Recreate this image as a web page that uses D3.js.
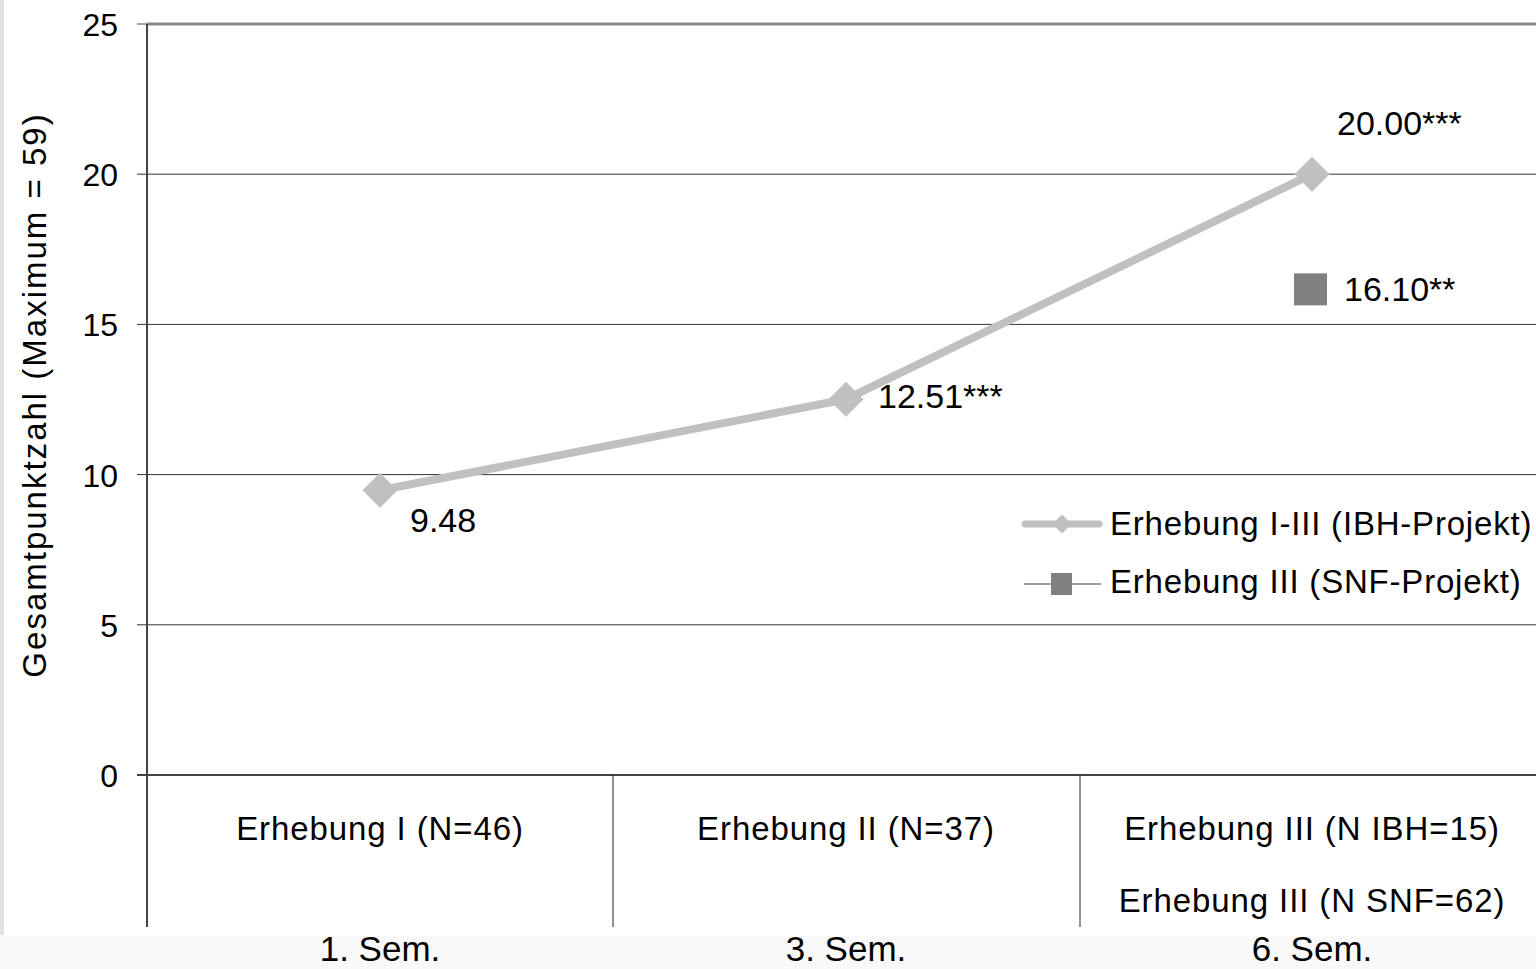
<!DOCTYPE html>
<html><head><meta charset="utf-8">
<script src="https://cdn.jsdelivr.net/npm/d3@7"></script>
<style>
html,body{margin:0;padding:0;background:#fff;overflow:hidden}
text{font-family:"Liberation Sans",Arial,sans-serif;fill:#000}
</style></head>
<body><svg id="c" width="1536" height="969"></svg>
<script>
const categories = ["Erhebung I (N=46)", "Erhebung II (N=37)", "Erhebung III (N IBH=15)"];
const categoryExtra = ["", "", "Erhebung III (N SNF=62)"];
const semesters = ["1. Sem.", "3. Sem.", "6. Sem."];
const ibhValues = [9.48, 12.51, 20.00];
const ibhLabels = ["9.48", "12.51***", "20.00***"];
const snfCategory = ["Erhebung III (N IBH=15)"];
const snfValues = [16.10];
const snfLabels = ["16.10**"];
const yTicks = [0, 5, 10, 15, 20, 25];
const seriesNames = ["Erhebung I-III (IBH-Projekt)", "Erhebung III (SNF-Projekt)"];
const yTitle = "Gesamtpunktzahl (Maximum = 59)";

const svg = d3.select("#c");
const pLeft = 147, pTop = 24, pBottom = 775;
// background bits
svg.append("rect").attr("x",0).attr("y",0).attr("width",4).attr("height",935).attr("fill","#e2e2e2");
svg.append("rect").attr("x",0).attr("y",936).attr("width",1536).attr("height",33).attr("fill","#f9f9f9");

const x = d3.scaleBand().domain(categories).range([pLeft, 1546]).padding(0);
const y = d3.scaleLinear().domain([0,25]).range([pBottom, pTop]);
const xc = d3.scalePoint().domain(categories).range([380,1312]);

// gridlines
svg.append("g").selectAll("line").data(yTicks.filter(t=>t>0&&t<25)).join("line")
  .attr("x1",pLeft-10).attr("x2",1536).attr("y1",d=>y(d)).attr("y2",d=>y(d))
  .attr("stroke","#333").attr("stroke-width",1);
svg.append("line").attr("x1",pLeft).attr("x2",1536).attr("y1",y(25)).attr("y2",y(25))
  .attr("stroke","#888").attr("stroke-width",3);
svg.append("line").attr("x1",pLeft-10).attr("x2",pLeft).attr("y1",y(25)).attr("y2",y(25))
  .attr("stroke","#444").attr("stroke-width",1);
// y axis
svg.append("line").attr("x1",pLeft).attr("x2",pLeft).attr("y1",pTop).attr("y2",927)
  .attr("stroke","#444").attr("stroke-width",2);
// x axis
svg.append("line").attr("x1",pLeft-10).attr("x2",1536).attr("y1",y(0)).attr("y2",y(0))
  .attr("stroke","#444").attr("stroke-width",2);
// category separators
svg.append("g").selectAll("line").data(categories.slice(1)).join("line")
  .attr("x1",d=>Math.round(x(d))).attr("x2",d=>Math.round(x(d))).attr("y1",y(0)).attr("y2",927)
  .attr("stroke","#222").attr("stroke-width",1);

// y tick labels
svg.append("g").selectAll("text").data(yTicks).join("text")
  .attr("x",118).attr("y",d=>y(d)+12).attr("text-anchor","end")
  .style("font-size","32px").text(d=>d);
// y title
svg.append("text").attr("transform",`translate(46,395) rotate(-90)`)
  .attr("text-anchor","middle").style("font-size","33px").style("letter-spacing","2px").text(yTitle);

// category labels
svg.append("g").selectAll("text").data(categories).join("text")
  .attr("x",d=>xc(d)).attr("y",840).attr("text-anchor","middle")
  .style("font-size","33px").style("letter-spacing","0.9px").text(d=>d);
svg.append("g").selectAll("text").data(categoryExtra).join("text")
  .attr("x",(d,i)=>xc(categories[i])).attr("y",912).attr("text-anchor","middle")
  .style("font-size","33px").style("letter-spacing","0.9px").text(d=>d);
svg.append("g").selectAll("text").data(semesters).join("text")
  .attr("x",(d,i)=>xc(categories[i])).attr("y",961).attr("text-anchor","middle")
  .style("font-size","35px").text(d=>d);

// IBH line
const line = d3.line().x((d,i)=>xc(categories[i])).y(d=>y(d));
svg.append("path").datum(ibhValues).attr("d",line).attr("fill","none")
  .attr("stroke","#c0c0c0").attr("stroke-width",8).attr("stroke-linejoin","round");
const diamond = (cx,cy,r)=>`M${cx},${cy-r}L${cx+r},${cy}L${cx},${cy+r}L${cx-r},${cy}Z`;
svg.append("g").selectAll("path").data(ibhValues).join("path")
  .attr("d",(d,i)=>diamond(xc(categories[i]),y(d),17.5)).attr("fill","#c0c0c0");
// SNF point
svg.append("g").selectAll("rect").data(snfValues).join("rect")
  .attr("x",(d,i)=>xc(snfCategory[i])-18).attr("y",d=>y(d)-18)
  .attr("width",33).attr("height",32).attr("fill","#808080");

// data labels
const ibhOff = [[30,42],[32,9],[25,-39]];
svg.append("g").selectAll("text").data(ibhValues).join("text")
  .attr("x",(d,i)=>xc(categories[i])+ibhOff[i][0]).attr("y",(d,i)=>y(d)+ibhOff[i][1])
  .style("font-size","34px").text((d,i)=>ibhLabels[i]);
svg.append("g").selectAll("text").data(snfValues).join("text")
  .attr("x",(d,i)=>xc(snfCategory[i])+32).attr("y",d=>y(d)+10)
  .style("font-size","34px").text((d,i)=>snfLabels[i]);

// legend
const lg = svg.append("g");
lg.append("line").attr("x1",1025).attr("x2",1099).attr("y1",524).attr("y2",524)
  .attr("stroke","#c0c0c0").attr("stroke-width",7).attr("stroke-linecap","round");
lg.append("path").attr("d",diamond(1062,524,9.5)).attr("fill","#c0c0c0");
lg.append("line").attr("x1",1024).attr("x2",1101).attr("y1",584).attr("y2",584)
  .attr("stroke","#808080").attr("stroke-width",1.5);
lg.append("rect").attr("x",1051).attr("y",573).attr("width",21).attr("height",22).attr("fill","#808080");
lg.selectAll("text").data(seriesNames).join("text")
  .attr("x",1110).attr("y",(d,i)=>535+i*58)
  .style("font-size","33px").style("letter-spacing","0.8px").text(d=>d);
</script></body></html>
